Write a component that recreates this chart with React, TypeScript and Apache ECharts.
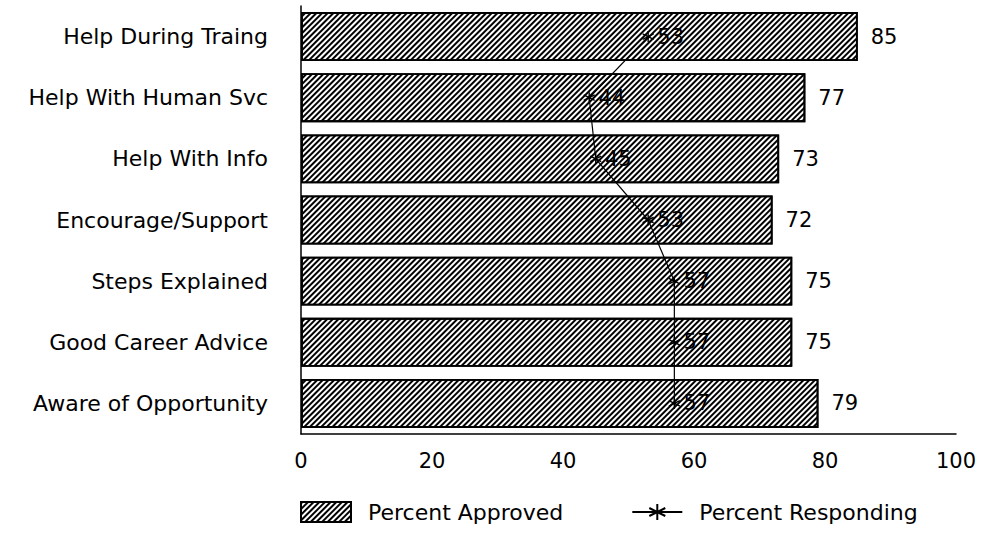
import React, { useEffect, useRef } from "react";
import * as echarts from "echarts";

// Categories listed top to bottom
const categories = [
  "Help During Traing",
  "Help With Human Svc",
  "Help With Info",
  "Encourage/Support",
  "Steps Explained",
  "Good Career Advice",
  "Aware of Opportunity",
];
const percentApproved = [85, 77, 73, 72, 75, 75, 79];
const percentResponding = [53, 44, 45, 53, 57, 57, 57];
const xTicks = [0, 20, 40, 60, 80, 100];

const FONT = "DejaVu Sans";
const FS = 21;

// Six-armed asterisk marker drawn as open strokes
const ASTERISK = "path://M5,0 L5,10 M0.67,2.5 L9.33,7.5 M0.67,7.5 L9.33,2.5";

export default function App() {
  const ref = useRef<HTMLDivElement>(null);

  useEffect(() => {
    if (!ref.current) return;
    const chart = echarts.init(ref.current, null, { renderer: "svg" });
    chart.setOption({
      animation: false,
      backgroundColor: "#fff",
      textStyle: { fontFamily: FONT, color: "#000" },
      grid: { left: 301, top: 6, width: 655, height: 428, containLabel: false },
      xAxis: {
        type: "value",
        min: xTicks[0],
        max: xTicks[xTicks.length - 1],
        interval: 20,
        axisLine: { show: true, lineStyle: { color: "#000", width: 1.5 } },
        axisTick: { show: false },
        splitLine: { show: false },
        axisLabel: { color: "#000", fontSize: FS, fontFamily: FONT, margin: 16 },
      },
      yAxis: {
        type: "category",
        inverse: true,
        data: categories,
        axisLine: { show: true, lineStyle: { color: "#000", width: 1.5 } },
        axisTick: { show: false },
        axisLabel: { color: "#000", fontSize: 22, fontFamily: FONT, margin: 33 },
      },
      legend: {
        left: 295,
        top: 496,
        itemWidth: 50,
        itemHeight: 20,
        itemGap: 68,
        textStyle: { fontSize: 22, fontFamily: FONT, color: "#000", padding: [0, 0, 0, 12] },
        data: [
          { name: "Percent Approved", icon: "rect" },
          { name: "Percent Responding" },
        ],
      },
      series: [
        {
          name: "Percent Approved",
          type: "bar",
          data: percentApproved,
          barCategoryGap: "20%",
          itemStyle: {
            color: "#fff",
            borderColor: "#000",
            borderWidth: 1.8,
            decal: {
              symbol: "rect",
              symbolSize: 1,
              dashArrayX: [1, 0],
              dashArrayY: [1.3, 1.9],
              rotation: -Math.PI / 4,
              color: "#000",
            },
          },
          label: {
            show: true,
            position: "right",
            distance: 13,
            color: "#000",
            fontSize: FS,
            fontFamily: FONT,
          },
        },
        {
          name: "Percent Responding",
          type: "line",
          data: percentResponding,
          symbol: ASTERISK,
          symbolSize: 11,
          lineStyle: { color: "#000", width: 1.2 },
          itemStyle: { color: "#000", borderColor: "#000", borderWidth: 1.4 },
          label: {
            show: true,
            position: "right",
            distance: 3,
            color: "#000",
            fontSize: FS,
            fontFamily: FONT,
          },
          z: 5,
        },
      ],
    });
    return () => chart.dispose();
  }, []);

  return (
    <div
      ref={ref}
      style={{ position: "fixed", left: 0, top: 0, width: 982, height: 545, background: "#fff" }}
    />
  );
}
